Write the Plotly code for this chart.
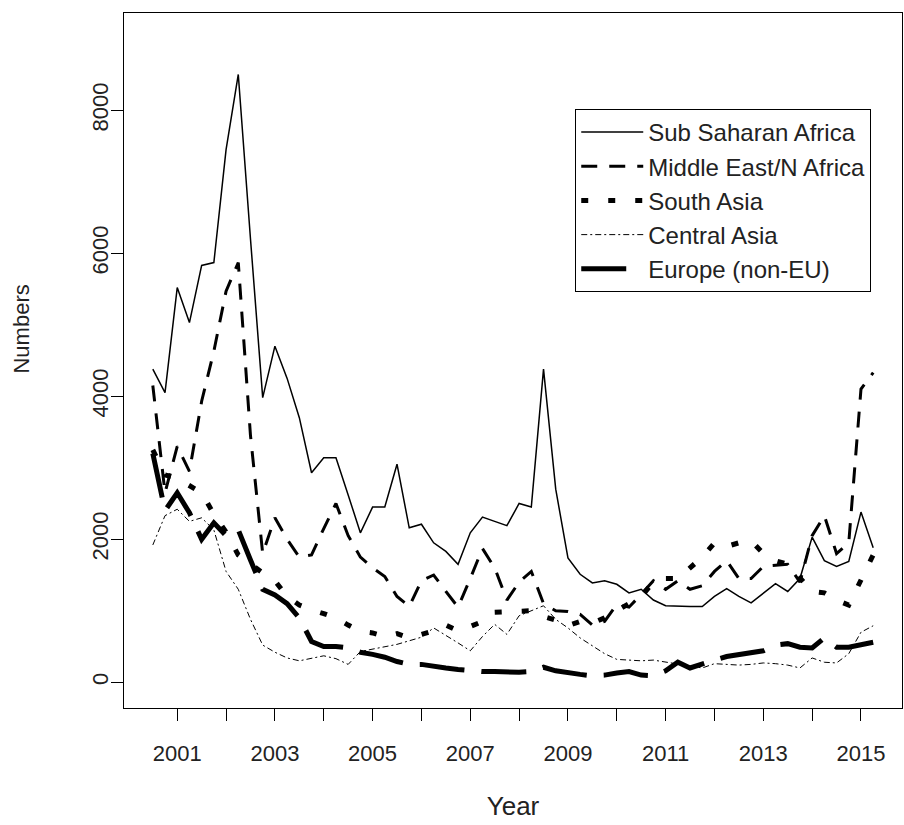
import plotly.graph_objects as go

# Quarterly time index: 2000 Q3 .. 2015 Q2
quarters = [y + (q - 1) / 4 for y in range(2000, 2016) for q in range(1, 5)][2:62]

sub_saharan_africa = [
    4380, 4050, 5520, 5030, 5830, 5870, 7450, 8500, 6200, 3980,
    4700, 4250, 3700, 2930, 3140, 3140, 2620, 2090, 2450, 2450,
    3050, 2160, 2210, 1950, 1830, 1650, 2090, 2310, 2250, 2190,
    2500, 2450, 4380, 2700, 1740, 1510, 1390, 1420, 1370, 1250,
    1300, 1150, 1070, 1060, 1060, 1060, 1200, 1310, 1200, 1110,
    1250, 1380, 1270, 1450, 2030, 1700, 1620, 1690, 2380, 1880,
]
middle_east_n_africa = [
    4150, 2650, 3300, 2950, 3930, 4630, 5470, 5870, 3450, 1800,
    2300, 2000, 1750, 1780, 2150, 2500, 2050, 1750, 1600, 1480,
    1200, 1060, 1420, 1500, 1270, 1050, 1450, 1870, 1600, 1150,
    1400, 1550, 1100, 1000, 990, 950, 800, 850, 1090, 1050,
    1230, 1420, 1300, 1420, 1300, 1350, 1550, 1700, 1450, 1450,
    1620, 1630, 1650, 1400, 2050, 2330, 1800, 1950, 4100, 4330,
]
south_asia = [
    3250, 2900, 2850, 2750, 2650, 2350, 2100, 1780, 1650, 1530,
    1420, 1200, 1080, 1010, 960, 900, 800, 710, 690, 640,
    680, 620, 670, 720, 800, 720, 780, 850, 980, 990,
    990, 1000, 920, 870, 790, 850, 830, 900, 1000, 1100,
    1200, 1400, 1450, 1450, 1600, 1750, 1950, 1900, 1950, 1980,
    1800, 1700, 1650, 1450, 1270, 1250, 1150, 1080, 1450, 1780,
]
central_asia = [
    1920, 2330, 2420, 2250, 2300, 2130, 1550, 1300, 880, 520,
    420, 340, 300, 340, 370, 330, 250, 430, 460, 490,
    530, 580, 630, 760, 660, 550, 440, 640, 810, 670,
    930, 1000, 1070, 880, 760, 620, 510, 400, 320, 310,
    300, 310, 280, 250, 220, 200, 260, 250, 240, 250,
    270, 260, 240, 200, 340, 280, 270, 400, 700, 790,
]
europe_non_eu = [
    3200, 2400, 2650, 2370, 2000, 2230, 2050, 2130, 1710, 1300,
    1220, 1100, 900, 570, 500, 500, 480, 420, 390, 350,
    290, 250, 250, 220, 200, 180, 160, 150, 150, 140,
    140, 150, 210, 160, 130, 110, 90, 100, 130, 150,
    100, 90, 160, 280, 200, 260, 310, 360, 390, 410,
    440, 520, 540, 490, 480, 620, 490, 490, 520, 560,
]

year_ticks = list(range(2001, 2016))
year_labels = [str(y) if y % 2 == 1 else "" for y in year_ticks]
number_ticks = [0, 2000, 4000, 6000, 8000]

styles = [
    ("Sub Saharan Africa", sub_saharan_africa, 1.5, "solid"),
    ("Middle East/N Africa", middle_east_n_africa, 3, "16px,12px"),
    ("South Asia", south_asia, 5, "7px,20px"),
    ("Central Asia", central_asia, 1, "6px,3px,2px,3px"),
    ("Europe (non-EU)", europe_non_eu, 5, "45px,17px"),
]

fig = go.Figure()
for name, values, width, dash in styles:
    fig.add_trace(go.Scatter(
        x=quarters, y=values, name=name, mode="lines",
        line=dict(color="black", width=width, dash=dash),
    ))

font_family = "Liberation Sans, Arial, sans-serif"
axis_common = dict(
    showgrid=False, zeroline=False,
    showline=True, linecolor="black", linewidth=1, mirror=True,
    ticks="outside", ticklen=12, tickwidth=1, tickcolor="black",
    automargin=False,
)

fig.update_layout(
    width=904, height=825,
    margin=dict(l=124, r=2, t=13, b=117, pad=0),
    paper_bgcolor="white", plot_bgcolor="white",
    font=dict(family=font_family, size=22, color="#222"),
    legend=dict(
        x=0.580, y=0.862, xanchor="left", yanchor="top",
        bordercolor="black", borderwidth=1, bgcolor="white",
        font=dict(family=font_family, size=24, color="#222"),
        itemwidth=62, tracegroupgap=0,
    ),
    xaxis=dict(
        range=[1999.91, 2015.84],
        tickmode="array", tickvals=year_ticks, ticktext=year_labels,
        ticklabelstandoff=14,
        title=dict(text="Year", standoff=31),
        **axis_common,
    ),
    yaxis=dict(
        range=[-360, 9360],
        tickmode="array", tickvals=number_ticks,
        tickangle=-90, ticklabelstandoff=-6,
        **axis_common,
    ),
    annotations=[dict(
        text="Numbers", textangle=-90, showarrow=False,
        xref="paper", yref="paper", x=-0.132, y=0.545,
        xanchor="center", yanchor="middle",
        font=dict(family=font_family, size=22, color="#222"),
    )],
)

fig.write_html("out.html")
